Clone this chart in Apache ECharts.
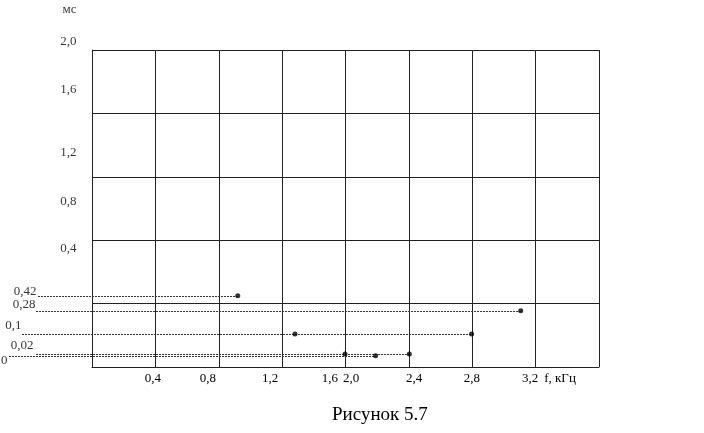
<!DOCTYPE html>
<html>
<head>
<meta charset="utf-8">
<script src="https://cdn.jsdelivr.net/npm/echarts@6/dist/echarts.min.js"></script>
<style>
html,body{margin:0;padding:0;background:#fff;}
#c{width:704px;height:433px;}
</style>
</head>
<body>
<div id="c"></div>
<script>
// ---- data (axis units: x in kHz grid units, y in ms grid units) ----
const xTickLabels = ['0,4', '0,8', '1,2', '1,6', '2,0', '2,4', '2,8', '3,2', 'f, кГц'];
const xTickAt = [0.385, 0.732, 1.124, 1.502, 1.635, 2.033, 2.398, 2.765, 2.954];

const yTickLabels = ['мс', '2,0', '1,6', '1,2', '0,8', '0,4'];
const yTickAt = [2.252, 2.05, 1.748, 1.35, 1.041, 0.744];

const rowLabels = ['0,42', '0,28', '0,1', '0,02', '0'];
const rowLabelX = [-0.347, -0.353, -0.442, -0.366, -0.530];
const rowLabelY = [0.473, 0.391, 0.259, 0.132, 0.038];

const rowY = [0.45, 0.355, 0.208, 0.082, 0.071];
const rowStartX = [-0.341, -0.353, -0.442, -0.353, -0.524];
const rowEndX = [0.92, 2.706, 2.396, 2.003, 1.79];

const pointsX = [0.92, 2.706, 1.281, 2.396, 1.597, 2.003, 1.79];
const pointsY = [0.45, 0.355, 0.208, 0.208, 0.082, 0.082, 0.071];

const caption = 'Рисунок 5.7';

// ---- chart ----
const FONT = '"Liberation Serif", "DejaVu Serif", serif';
const chart = echarts.init(document.getElementById('c'), null, {renderer: 'canvas'});

const series = [];
// dotted guide lines (custom series so they can run left of the plot area)
series.push({
  type: 'custom',
  clip: false,
  silent: true,
  data: rowY.map((y, i) => [rowStartX[i], rowEndX[i], y]),
  renderItem: (params, api) => {
    const p0 = api.coord([api.value(0), api.value(2)]);
    const p1 = api.coord([api.value(1), api.value(2)]);
    const yy = Math.round(p0[1]) + 0.5;
    return {
      type: 'line',
      shape: {x1: p0[0], y1: yy, x2: p1[0], y2: yy},
      style: {stroke: '#333', lineWidth: 1, lineDash: [2, 1]}
    };
  },
  encode: {x: [0, 1], y: 2},
  z: 3
});
series.push({
  type: 'scatter',
  clip: false,
  silent: true,
  symbol: 'circle',
  symbolSize: 5,
  itemStyle: {color: '#000'},
  data: pointsX.map((x, i) => [x, pointsY[i]]),
  z: 5
});
// y tick labels (right aligned beside the axis)
series.push({
  type: 'scatter',
  clip: false,
  silent: true,
  symbolSize: 1,
  itemStyle: {color: 'rgba(0,0,0,0)'},
  data: yTickAt.map((v, i) => ({value: [0, v], name: yTickLabels[i]})),
  label: {
    show: true, position: 'left', distance: 15,
    formatter: p => p.name,
    color: '#000', fontFamily: FONT, fontSize: 13
  },
  z: 6
});
// lower row labels
series.push({
  type: 'scatter',
  clip: false,
  silent: true,
  symbolSize: 1,
  itemStyle: {color: 'rgba(0,0,0,0)'},
  data: rowLabelX.map((x, i) => ({value: [x, rowLabelY[i]], name: rowLabels[i]})),
  label: {
    show: true, position: 'left', distance: 0,
    formatter: p => p.name,
    color: '#000', fontFamily: FONT, fontSize: 13
  },
  z: 6
});

chart.setOption({
  animation: false,
  backgroundColor: '#fff',
  title: {
    text: caption,
    left: 327, top: 401,
    textStyle: {fontFamily: FONT, fontSize: 19, fontWeight: 'normal', color: '#000'}
  },
  grid: {left: 92, top: 50, width: 507, height: 317, show: false},
  xAxis: [{
    type: 'value', min: 0, max: 3.2, interval: 0.4,
    axisLine: {show: true, lineStyle: {color: '#222', width: 1}},
    axisTick: {show: false},
    axisLabel: {show: false},
    splitLine: {show: true, lineStyle: {color: '#222', width: 1}}
  }, {
    type: 'value', min: 0, max: 3.2, position: 'bottom',
    axisLine: {show: false},
    axisTick: {show: false},
    splitLine: {show: false},
    axisLabel: {
      show: true, margin: 5,
      customValues: xTickAt,
      formatter: (v) => {
        let best = 0, d = 1e9;
        xTickAt.forEach((t, i) => { if (Math.abs(t - v) < d) { d = Math.abs(t - v); best = i; } });
        return xTickLabels[best];
      },
      color: '#000', fontFamily: FONT, fontSize: 13,
      showMinLabel: true, showMaxLabel: true
    }
  }],
  yAxis: {
    type: 'value', min: 0, max: 2.0, interval: 0.4,
    axisLine: {show: true, lineStyle: {color: '#222', width: 1}},
    axisTick: {show: false},
    axisLabel: {show: false},
    splitLine: {show: true, lineStyle: {color: '#222', width: 1}}
  },
  series: series
});
</script>
</body>
</html>
